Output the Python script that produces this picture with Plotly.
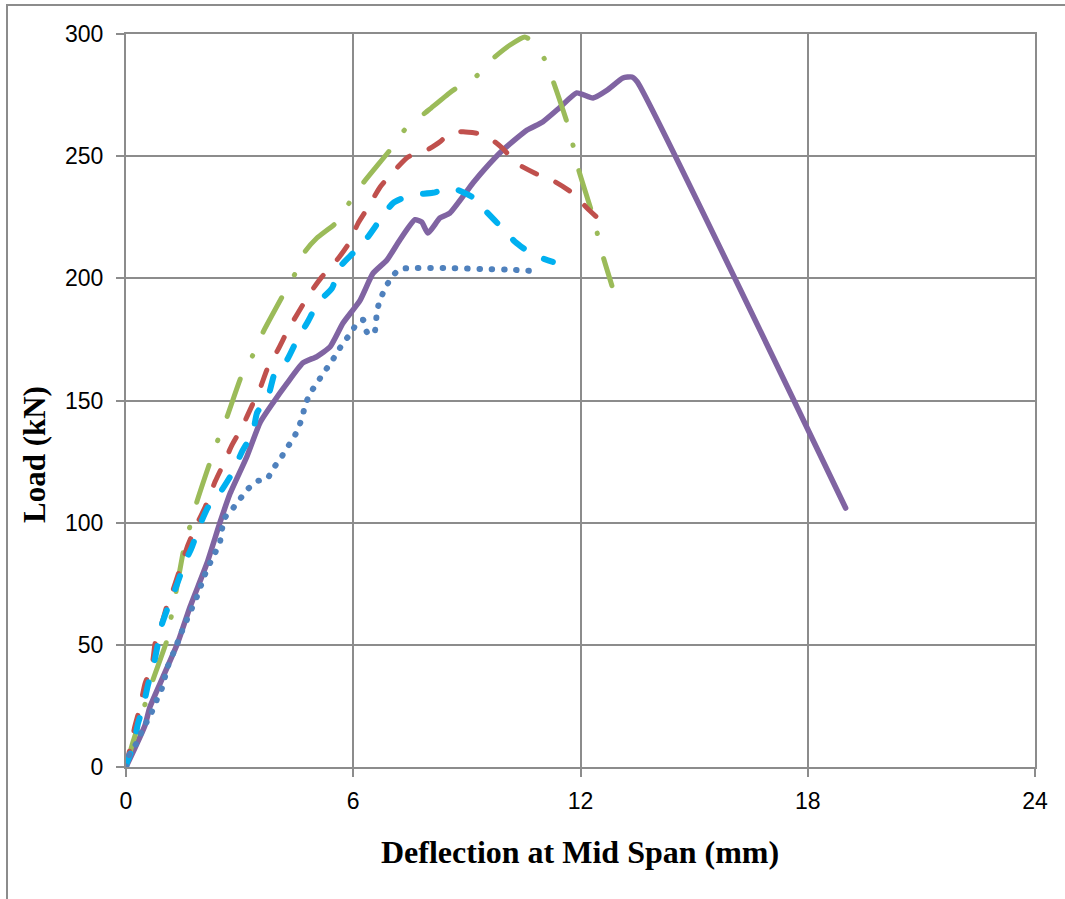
import plotly.graph_objects as go

# ---- data (deflection mm, load kN) ----
purple_x = [0, 0.5, 0.63, 0.98, 1.37, 1.69, 2.14, 2.48, 2.75, 3.19, 3.54, 3.88, 4.25, 4.67, 5.04, 5.39,
            5.73, 6.18, 6.52, 6.89, 7.23, 7.63, 7.81, 7.97, 8.29, 8.55, 9.16, 9.43, 9.95, 10.59, 11.0,
            11.46, 11.9, 12.33, 12.7, 13.12, 13.36, 13.5, 19.0]
purple_y = [0, 17, 24.5, 37, 51, 65.5, 83.5, 100, 112, 127, 141, 149, 157, 165.4, 168, 172,
            181.7, 191, 202, 207.5, 215.7, 224, 223, 218.5, 224.7, 226.7, 239, 244, 252.5, 260.7, 264,
            270, 275.9, 273.8, 277, 282, 282.4, 280.4, 106]

green_x = [0, 0.18, 0.71, 1.1, 1.2, 1.3, 1.53, 1.69, 1.87, 2.22, 2.43, 2.66, 3.06, 3.35, 3.62, 4.15,
           4.46, 4.73, 5.04, 5.57, 5.89, 6.26, 6.97, 7.37, 8.0, 8.55, 8.74, 9.27, 9.69, 10.14, 10.53,
           10.67, 11.04, 11.27, 11.64, 11.8, 11.94, 12.3, 12.44, 12.6, 12.83]
green_y = [0, 10, 35.6, 52.8, 62, 70, 89.6, 98.6, 108.5, 124.8, 134, 143, 160.5, 168.6, 178, 193.2,
           201.8, 211, 216.5, 223, 230.8, 239, 252.5, 261, 269, 276, 278, 283, 290, 295.5, 298.8,
           297.6, 290, 281, 264, 254.6, 245, 227, 218.6, 208.7, 197]

red_x = [0, 0.24, 0.37, 0.5, 0.69, 0.77, 0.95, 1.11, 1.24, 1.64, 1.9, 2.09, 2.35, 2.56, 2.8, 3.06,
         3.33, 3.54, 3.75, 4.01, 4.28, 4.54, 4.86, 5.17, 5.57, 5.86, 6.13, 6.39, 6.71, 7.05, 7.45,
         7.95, 8.3, 8.55, 8.9, 9.48, 9.93, 10.32, 10.8, 11.33, 11.78, 12.17, 12.57]
red_y = [0, 17, 24.5, 34, 41.7, 50.7, 59, 67.5, 72.4, 91, 100.3, 106.4, 116.7, 123.6, 131.8, 139,
         148, 155, 163.7, 170.7, 179, 185.8, 194, 200.6, 207.5, 213.7, 222.6, 229, 237.4, 243.5, 249.7,
         252.5, 256, 259.5, 260, 258.7, 253.4, 247, 243, 239.5, 235, 228.8, 223]

cyan_x = [0, 0.02, 0.18, 0.32, 0.45, 0.58, 0.72, 0.85, 0.94, 1.16, 1.34, 1.55, 1.74, 1.95, 2.17,
          2.53, 2.82, 3.06, 3.35, 3.46, 3.75, 3.93, 4.25, 4.54, 4.78, 5.07, 5.44, 5.65, 6.0, 6.39,
          6.71, 7.05, 7.5, 8.1, 8.6, 9.14, 9.53, 9.93, 10.27, 10.75, 11.27]
cyan_y = [0, 1.6, 8, 18, 24.5, 33.6, 41, 51, 58, 67.5, 74.5, 83.5, 90, 99, 106.4,
          113.4, 120.7, 129, 137, 145, 151.5, 161.3, 166.6, 175.6, 181.7, 190, 196, 204.7, 210.4, 217,
          224, 230.8, 234, 235, 237, 233.3, 227, 220.6, 215, 209.6, 206.7]

blue_x = [0, 0.1, 0.28, 0.41, 0.68, 0.81, 0.95, 1.1, 1.25, 1.47, 1.6, 1.74, 1.87, 2.08, 2.22, 2.35,
          2.48, 2.53, 2.61, 2.83, 3.01, 3.22, 3.46, 3.72, 3.88, 4.07, 4.25, 4.41, 4.54, 4.65, 4.73,
          4.86, 5.04, 5.2, 5.39, 5.57, 5.73, 5.94, 6.1, 6.26, 6.36, 6.55, 6.6, 6.63, 6.73, 6.86,
          7.02, 7.23, 7.55, 8.5, 9.5, 10.2, 10.75]
blue_y = [0, 5.7, 9.8, 14.3, 22.5, 27.4, 32.3, 41, 46.6, 55.3, 60, 65, 69.6, 78.6, 83.5, 87.6,
          92, 97, 102, 106, 109.7, 113.8, 117, 117.8, 122, 126, 130.6, 134.2, 138.3, 143, 148,
          153, 157, 161, 165, 169.5, 173.5, 177.6, 181.7, 183, 178, 177.2, 182, 187, 192, 196.5,
          200.6, 203.8, 204.2, 204.2, 203.8, 203.5, 203]

x_ticks = [0, 6, 12, 18, 24]
y_ticks = [0, 50, 100, 150, 200, 250, 300]

# ---- figure ----
fig = go.Figure()
series = [
    (purple_x, purple_y, "#8064A2", 5.5, "solid"),
    (green_x, green_y, "#9BBB59", 5, "39px,26px,0.5px,26px"),
    (red_x, red_y, "#C0504D", 5, "16px,21px"),
    (cyan_x, cyan_y, "#00B0F0", 6, "14px,23px"),
    (blue_x, blue_y, "#4F81BD", 6, "0.5px,11.8px"),
]
for xs, ys, col, w, dash in series:
    fig.add_trace(go.Scatter(
        x=xs, y=ys, mode="lines",
        line=dict(color=col, width=w, dash=dash, shape="spline", smoothing=0.5),
        hoverinfo="skip", showlegend=False))

grid_col = "#8c8c8c"
axis_common = dict(
    showgrid=True, gridcolor=grid_col, gridwidth=2,
    showline=True, linecolor=grid_col, linewidth=2, mirror=True,
    ticks="outside", ticklen=8, tickwidth=2, tickcolor=grid_col,
    zeroline=False,
    tickfont=dict(family="Liberation Sans, Arial, sans-serif", size=23, color="black"),
)
fig.update_xaxes(range=[0, 24], tickvals=x_ticks, ticktext=[str(v) for v in x_ticks],
                 ticklabelstandoff=4, **axis_common)
fig.update_yaxes(range=[0, 300], tickvals=y_ticks, ticktext=[str(v) for v in y_ticks],
                 ticklabelstandoff=8, **axis_common)

L, R, T, B = 126, 30, 34, 132
W, H = 1065, 899
pw, ph = W - L - R, H - T - B

def px_x(p):
    return (p - L) / pw

def px_y(p):
    return (H - B - p) / ph

fig.update_layout(
    width=W, height=H,
    margin=dict(l=L, r=R, t=T, b=B, pad=0),
    paper_bgcolor="white", plot_bgcolor="white",
    showlegend=False,
    annotations=[
        dict(text="<b>Deflection at Mid Span (mm)</b>", xref="paper", yref="paper",
             x=px_x(580), y=px_y(852), xanchor="center", yanchor="middle", showarrow=False,
             font=dict(family="Liberation Serif, Times New Roman, serif", size=32, color="black")),
        dict(text="<b>Load (kN)</b>", xref="paper", yref="paper",
             x=px_x(34), y=px_y(455), xanchor="center", yanchor="middle", showarrow=False,
             textangle=-90,
             font=dict(family="Liberation Serif, Times New Roman, serif", size=31, color="black")),
    ],
    shapes=[
        dict(type="rect", xref="paper", yref="paper",
             x0=px_x(7), x1=px_x(1075), y0=px_y(910), y1=px_y(5),
             line=dict(color=grid_col, width=2), fillcolor="rgba(0,0,0,0)", layer="below"),
    ],
)

post = ("var s=document.createElement('style');"
        "s.innerHTML='.scatterlayer .js-line{stroke-linecap:round;stroke-linejoin:round;}';"
        "document.head.appendChild(s);")
fig.write_html("out.html", post_script=post)
